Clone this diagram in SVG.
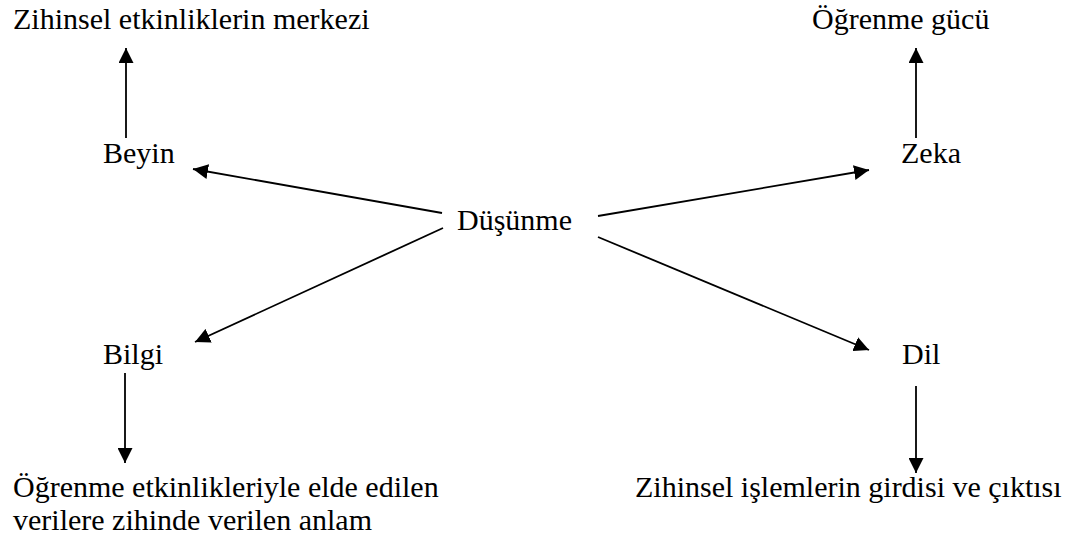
<svg xmlns="http://www.w3.org/2000/svg" width="1068" height="541" viewBox="0 0 1068 541">
<style>
.t{font-size:30px;fill:#000}
.c line{stroke:#000;stroke-width:1.8;fill:none}
</style>
<defs>
<marker id="ah" markerUnits="userSpaceOnUse" markerWidth="15" markerHeight="15" refX="14" refY="7" orient="auto" viewBox="0 0 14 14">
<path d="M0,0 L14,7 L0,14 z" fill="#000"/>
</marker>
</defs>
<rect width="1068" height="541" fill="#fff"/>
<g class="t" font-family="'Liberation Serif', 'Times New Roman', Times, serif">
<g id="n-merkez"><text x="13" y="29">Zihinsel etkinliklerin merkezi</text></g>
<g id="n-ogrenme"><text x="812" y="29">Öğrenme gücü</text></g>
<g id="n-beyin"><text x="103" y="163">Beyin</text></g>
<g id="n-zeka"><text x="901" y="163">Zeka</text></g>
<g id="n-dusunme"><text x="457" y="230">Düşünme</text></g>
<g id="n-bilgi"><text x="103" y="364">Bilgi</text></g>
<g id="n-dil"><text x="902" y="364">Dil</text></g>
<g id="n-anlam"><text x="13" y="497">Öğrenme etkinlikleriyle elde edilen</text><text x="13" y="530">verilere zihinde verilen anlam</text></g>
<g id="n-girdi"><text x="635" y="497">Zihinsel işlemlerin girdisi ve çıktısı</text></g>
</g>
<g class="c" id="connectors">
<line x1="126" y1="138" x2="126" y2="48" marker-end="url(#ah)"/>
<line x1="916" y1="138" x2="916" y2="48" marker-end="url(#ah)"/>
<line x1="442" y1="213" x2="193" y2="169" marker-end="url(#ah)"/>
<line x1="598" y1="216" x2="869" y2="170" marker-end="url(#ah)"/>
<line x1="443" y1="228" x2="195" y2="342" marker-end="url(#ah)"/>
<line x1="598" y1="237" x2="869" y2="350" marker-end="url(#ah)"/>
<line x1="125" y1="373" x2="125" y2="463" marker-end="url(#ah)"/>
<line x1="916" y1="386" x2="916" y2="473" marker-end="url(#ah)"/>
</g>
</svg>
